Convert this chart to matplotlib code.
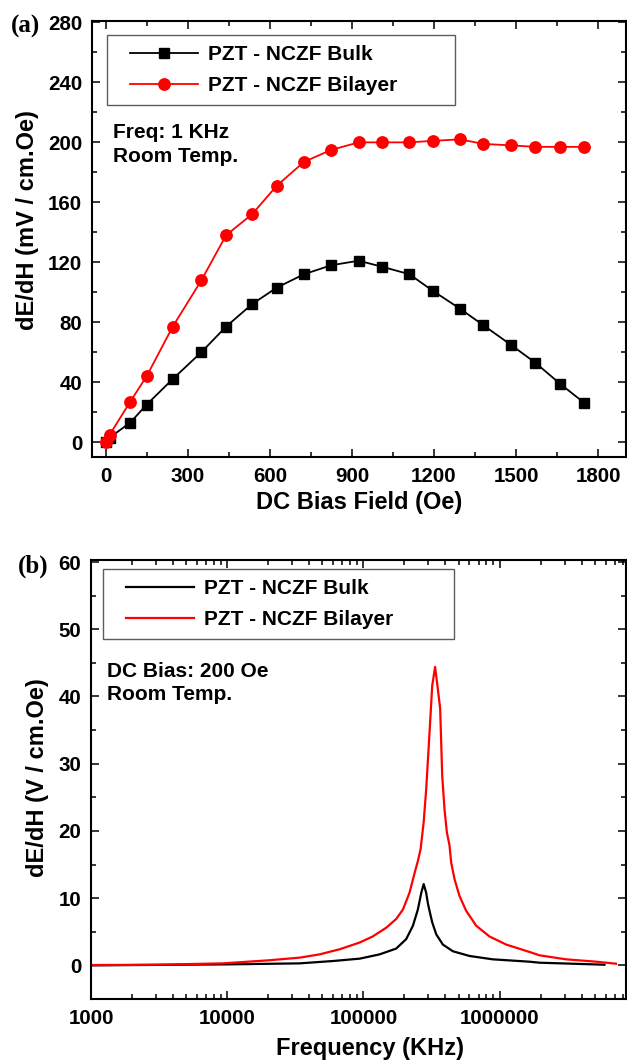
import matplotlib
matplotlib.use("Agg")
import matplotlib.pyplot as plt
from matplotlib.ticker import MultipleLocator, FixedLocator, FixedFormatter, LogLocator, NullFormatter
from matplotlib.legend_handler import HandlerLine2D

# ---------------- data ----------------
# Panel (a): ME coefficient vs DC bias field at 1 kHz
field_bulk = [0, 15, 90, 150, 245, 350, 440, 535, 625, 725, 825, 925, 1010, 1110, 1195, 1295, 1380, 1480, 1570, 1660, 1750]
me_bulk = [0, 3, 13, 25, 42, 60, 77, 92, 103, 112, 118, 121, 117, 112, 101, 89, 78, 65, 53, 39, 26]
field_bil = [0, 15, 90, 150, 245, 350, 440, 535, 625, 725, 825, 925, 1010, 1110, 1195, 1295, 1380, 1480, 1570, 1660, 1750]
me_bil = [0, 5, 27, 44, 77, 108, 138, 152, 171, 187, 195, 200, 200, 200, 201, 202, 199, 198, 197, 197, 197]

# Panel (b): ME coefficient vs frequency at 200 Oe
freq_bulk = [1000, 10000, 34000, 59700, 93800, 131500, 174000, 206000, 231000, 251000, 266000,
             277000, 289000, 297000, 302000, 320000, 343000, 383000, 454000, 601000, 891000,
             1656000, 1960000, 5890000]
val_bulk = [0.0, 0.15, 0.3, 0.65, 1.0, 1.64, 2.5, 3.9, 5.9, 8.3, 10.8,
            12.1, 10.8, 9.3, 8.6, 6.4, 4.6, 3.1, 2.1, 1.4, 0.9,
            0.55, 0.4, 0.1]
freq_bil = [1000, 3000, 9300, 20000, 34000, 47700, 67000, 93800, 117000, 147000, 174000, 195000,
            218000, 238000, 251000, 263000, 277000, 289000, 306000, 320000, 336000, 352000,
            366000, 379000, 394000, 410000, 429000, 441000, 467000, 508000, 569000, 673000,
            843000, 1117000, 1656000, 1960000, 3080000, 5120000, 7160000]
val_bil = [0.05, 0.1, 0.3, 0.75, 1.15, 1.64, 2.4, 3.4, 4.3, 5.6, 6.9, 8.3,
           10.8, 13.8, 15.5, 17.3, 21.3, 26.2, 34.7, 41.6, 44.4, 41.1,
           38.2, 28.2, 23.2, 19.8, 17.8, 15.3, 12.8, 10.3, 8.1, 5.9,
           4.3, 3.1, 2.0, 1.5, 0.9, 0.55, 0.25]

series_labels = ["PZT - NCZF Bulk", "PZT - NCZF Bilayer"]
freq_ticks = [1000, 10000, 100000, 1000000]
freq_ticklabels = ["1000", "10000", "100000", "1000000"]

# ---------------- style ----------------
plt.rcParams['font.family'] = ['Liberation Sans', 'DejaVu Sans']
plt.rcParams['font.weight'] = 'bold'
plt.rcParams['axes.labelweight'] = 'bold'

W, H = 627, 1060
fig = plt.figure(figsize=(W / 100, H / 100), dpi=100)

def px_axes(l, t, r, b):
    return fig.add_axes([l / W, 1 - b / H, (r - l) / W, (b - t) / H])

ax1 = px_axes(92, 21, 625.5, 457)
ax2 = px_axes(91, 560, 625.5, 999)

TICKFS = 14.8
LABELFS = 17
LEGFS = 15

def style_axes(ax):
    for s in ax.spines.values():
        s.set_linewidth(1.5)
    ax.tick_params(which='both', direction='in', top=True, right=True,
                   width=1.1, labelsize=TICKFS)
    ax.tick_params(which='major', length=5.5, pad=7)
    ax.tick_params(which='minor', length=3.5)
    for lab in ax.get_xticklabels() + ax.get_yticklabels():
        lab.set_fontweight('bold')

def add_legend(ax, left_px, top_px, width_px):
    bb = ax.get_position()
    aw = bb.width * W
    ah = bb.height * H
    x0 = left_px / aw
    top = 1 - top_px / ah
    hm = {ln: HandlerLine2D(xpad=0.62) for ln in ax.get_lines()}
    leg = ax.legend(loc='upper left', bbox_to_anchor=(x0, top - 0.1, width_px / aw, 0.1),
                    mode='expand', frameon=True, fancybox=False,
                    edgecolor='#333333', handlelength=3.85, handletextpad=0.5,
                    borderpad=0.5, labelspacing=0.55, borderaxespad=0, handler_map=hm,
                    prop={'weight': 'bold', 'size': LEGFS})
    leg.get_frame().set_linewidth(1.0)
    return leg

# ---- Panel (a) ----
ax1.plot(field_bulk, me_bulk, color='black', lw=1.3, marker='s', ms=7.5,
         label=series_labels[0])
ax1.plot(field_bil, me_bil, color='#ff0000', lw=1.3, marker='o', ms=8.2,
         label=series_labels[1])
ax1.set_xlim(-50, 1900)
ax1.set_ylim(-10, 281)
ax1.xaxis.set_major_locator(MultipleLocator(300))
ax1.xaxis.set_minor_locator(MultipleLocator(150))
ax1.yaxis.set_major_locator(MultipleLocator(40))
ax1.yaxis.set_minor_locator(MultipleLocator(20))
style_axes(ax1)
ax1.set_xlabel("DC Bias Field (Oe)", fontsize=LABELFS, fontweight='bold', labelpad=4)
ax1.set_ylabel("dE/dH (mV / cm.Oe)", fontsize=LABELFS, fontweight='bold')
ax1.yaxis.set_label_coords(-(92 - 39) / 533.5, (457 - 220) / 436)
add_legend(ax1, 15, 14, 348)
ax1.text((113 - 92) / 533.5, (457 - 123) / 436, "Freq: 1 KHz\nRoom Temp.",
         transform=ax1.transAxes, ha='left', va='top', fontsize=LEGFS,
         fontweight='bold', linespacing=1.3)

# ---- Panel (b) ----
ax2.plot(freq_bulk, val_bulk, color='black', lw=1.6, label=series_labels[0])
ax2.plot(freq_bil, val_bil, color='#ff0000', lw=1.6, label=series_labels[1])
ax2.set_xscale('log')
ax2.set_xlim(1000, 8.4e6)
ax2.set_ylim(-5, 60.3)
ax2.xaxis.set_major_locator(FixedLocator(freq_ticks))
ax2.xaxis.set_major_formatter(FixedFormatter(freq_ticklabels))
ax2.xaxis.set_minor_locator(LogLocator(base=10, subs=range(2, 10), numticks=20))
ax2.xaxis.set_minor_formatter(NullFormatter())
ax2.yaxis.set_major_locator(MultipleLocator(10))
ax2.yaxis.set_minor_locator(MultipleLocator(5))
style_axes(ax2)
ax2.set_xlabel("Frequency (KHz)", fontsize=LABELFS, fontweight='bold')
ax2.xaxis.set_label_coords((370 - 91) / 534.5, -(1037 - 999) / 439)
ax2.set_ylabel("dE/dH (V / cm.Oe)", fontsize=LABELFS, fontweight='bold')
ax2.yaxis.set_label_coords(-(91 - 49) / 534.5, (999 - 778) / 439)
add_legend(ax2, 12, 9, 351)
ax2.text((107 - 91) / 534.5, (999 - 662) / 439, "DC Bias: 200 Oe\nRoom Temp.",
         transform=ax2.transAxes, ha='left', va='top', fontsize=LEGFS,
         fontweight='bold', linespacing=1.3)

# panel letters
fig.text(11 / W, 1 - 33 / H, "(a)", fontsize=18, fontweight='bold',
         family=['Liberation Serif', 'DejaVu Serif'], ha='left', va='baseline')
fig.text(18 / W, 1 - 573 / H, "(b)", fontsize=18, fontweight='bold',
         family=['Liberation Serif', 'DejaVu Serif'], ha='left', va='baseline')

fig.savefig("out.png", dpi=100)
